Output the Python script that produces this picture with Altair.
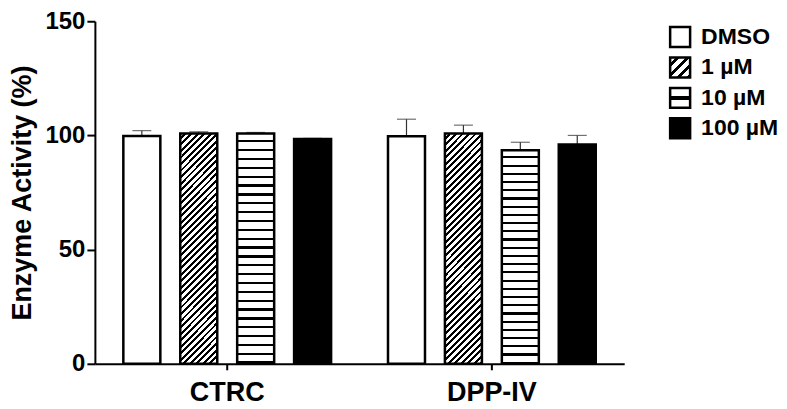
import altair as alt
import pandas as pd

categories = ["CTRC", "DPP-IV"]
series = ["DMSO", "1 µM", "10 µM", "100 µM"]
ctrc_mean = [99.8, 100.8, 100.8, 98.4]
ctrc_err = [2.3, 0.8, 0.5, 0.3]
dpp_mean = [99.6, 100.8, 93.5, 96.0]
dpp_err = [7.5, 3.7, 3.5, 4.0]
y_ticks = [0, 50, 100, 150]

FONT = "Liberation Sans"
W, H = 530, 343

rows = []
for cat, means, errs in ((categories[0], ctrc_mean, ctrc_err),
                         (categories[1], dpp_mean, dpp_err)):
    for s, m, e in zip(series, means, errs):
        rows.append({"group": cat, "series": s, "mean": m, "upper": m + e})
df = pd.DataFrame(rows)


def stripes(n, frac, x1, y1, x2, y2, bg="white", fg="black"):
    stops = []
    for i in range(n):
        a = i / n
        b = (i + 1 - frac) / n
        c = (i + 1) / n
        stops += [
            {"offset": round(a, 5), "color": bg},
            {"offset": round(b, 5), "color": bg},
            {"offset": round(b, 5), "color": fg},
            {"offset": round(c, 5), "color": fg},
        ]
    return {"gradient": "linear", "x1": x1, "y1": y1, "x2": x2, "y2": y2, "stops": stops}


# bar geometry (approx) for 45-degree hatching in bounding-box units
bar_w, bar_h = 37.0, H * 100 / 150
r = bar_w / bar_h
b_ = (1 + r) / (1 + r * r)
a_ = r * b_

bar_fills = {
    "DMSO": "white",
    "1 µM": stripes(41, 0.45, 0, 0, a_, b_),
    "10 µM": stripes(26, 0.26, 0, 0, 0, 1),
    "100 µM": "black",
}
legend_fills = {
    "DMSO": "white",
    "1 µM": stripes(4, 0.45, 0, 0, 1, 1),
    "10 µM": {"gradient": "linear", "x1": 0, "y1": 0, "x2": 0, "y2": 1,
              "stops": [{"offset": 0, "color": "white"}, {"offset": 0.42, "color": "white"},
                        {"offset": 0.42, "color": "black"}, {"offset": 0.6, "color": "black"},
                        {"offset": 0.6, "color": "white"}, {"offset": 1, "color": "white"}]},
    "100 µM": "black",
}

x_enc = alt.X(
    "group:N", sort=categories,
    scale=alt.Scale(domain=categories, paddingInner=0.215, paddingOuter=0.1075),
    axis=alt.Axis(title=None, labelFont=FONT, labelFontSize=27, labelFontWeight="bold",
                  labelColor="black", labelAngle=0, labelPadding=10,
                  domainColor="black", domainWidth=2, tickColor="black",
                  tickWidth=2, tickSize=6),
)
xoff_enc = alt.XOffset("series:N", sort=series,
                       scale=alt.Scale(domain=series, paddingInner=0.35, paddingOuter=0))
y_axis = alt.Axis(values=y_ticks, title="Enzyme Activity (%)", titleFont=FONT,
                  titleFontSize=27, titleFontWeight="bold", titleColor="black",
                  titlePadding=8, labelFont=FONT, labelFontSize=24,
                  labelFontWeight="bold", labelColor="black", labelPadding=2,
                  tickSize=8, tickWidth=2, tickColor="black", domainColor="black",
                  domainWidth=2, grid=False)
y_scale = alt.Scale(domain=[0, 150], nice=False)

base = alt.Chart(df).encode(x=x_enc, xOffset=xoff_enc)

err_rule = base.mark_rule(color="#333333", strokeWidth=1.2).encode(
    y=alt.Y("mean:Q", scale=y_scale, axis=y_axis), y2="upper:Q")
err_cap = base.mark_tick(orient="horizontal", size=19, thickness=1.2, color="#333333").encode(
    y=alt.Y("upper:Q", scale=y_scale, axis=y_axis))

bar_layers = []
for s in series:
    bar_layers.append(
        base.transform_filter(alt.datum.series == s)
        .mark_bar(fill=bar_fills[s], stroke="black", strokeWidth=2.5)
        .encode(y=alt.Y("mean:Q", scale=y_scale, axis=y_axis))
    )

main = alt.layer(err_rule, err_cap, *bar_layers).properties(
    width=W, height=H, view=alt.ViewBackground(stroke=None, strokeWidth=0))

leg_df = pd.DataFrame({"series": series})
lbase = alt.Chart(leg_df).encode(
    y=alt.Y("series:N", sort=series,
            scale=alt.Scale(type="point", domain=series, padding=0.52), axis=None))
leg_layers = []
for s in series:
    leg_layers.append(
        lbase.transform_filter(alt.datum.series == s)
        .mark_square(size=400, fill=legend_fills[s], stroke="black", strokeWidth=2.5, opacity=1)
        .encode(x=alt.value(19))
    )
leg_text = lbase.mark_text(align="left", baseline="middle", font=FONT, fontSize=23,
                           fontWeight="bold", color="black").encode(
    x=alt.value(40), text="series:N")
legend = alt.layer(*leg_layers, leg_text).properties(
    width=115, height=123, view=alt.ViewBackground(stroke=None, strokeWidth=0))

chart = (
    alt.hconcat(main, legend, spacing=37)
    .properties(padding={"top": 1, "left": 0, "right": 0, "bottom": 0})
    .configure_view(stroke=None, strokeWidth=0)
    .configure(font=FONT)
)

chart.save("out.html", embed_options={"renderer": "svg", "actions": False})
